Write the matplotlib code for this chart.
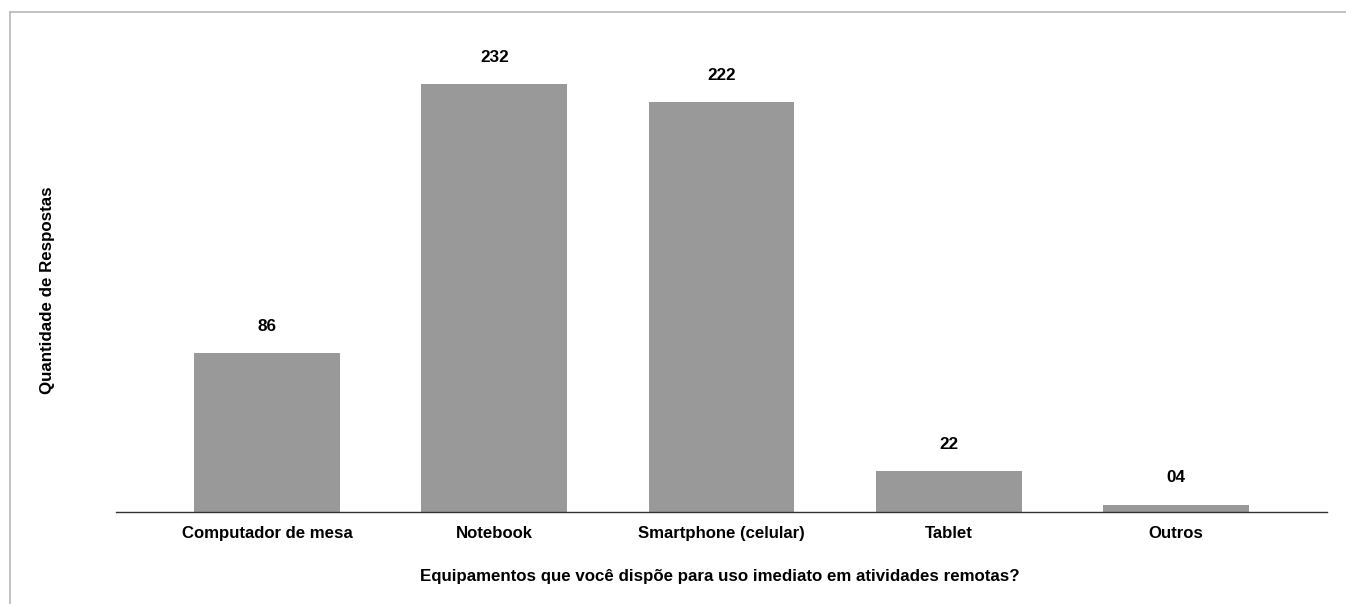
import matplotlib
matplotlib.use("Agg")
import matplotlib.pyplot as plt
from matplotlib.lines import Line2D

categories = ["Computador de mesa", "Notebook", "Smartphone (celular)", "Tablet", "Outros"]
values = [86, 232, 222, 22, 4]
value_labels = ["86", "232", "222", "22", "04"]

plt.rcParams['font.family'] = ['Liberation Sans', 'DejaVu Sans']

W, H = 1346, 604
fig = plt.figure(figsize=(W / 100, H / 100), dpi=100)

# outer border (left & top visible)
fig.add_artist(Line2D([9.5 / W, 9.5 / W], [0, 1 - 11.5 / H], color="#b8b8b8", lw=1.2, transform=fig.transFigure))
fig.add_artist(Line2D([9.5 / W, 1], [1 - 11.5 / H, 1 - 11.5 / H], color="#b8b8b8", lw=1.2, transform=fig.transFigure))

ax_left, ax_right = 116 / W, 1327 / W
ax_bottom = 1 - 512 / H
ax_top = 1 - 30 / H
ax = fig.add_axes([ax_left, ax_bottom, ax_right - ax_left, ax_top - ax_bottom])

px_per_unit = (512 - 84) / 232.0
ymax = (512 - 30) / px_per_unit

x = list(range(len(categories)))
ax.bar(x, values, width=0.643, color="#999999", edgecolor="none")
for xi, v, lab in zip(x, values, value_labels):
    ax.annotate(lab, (xi, v), xytext=(0, 27), textcoords="offset pixels",
                ha="center", va="center", fontsize=12.3, fontweight="bold", color="#000000")

ax.set_xlim(-0.667, 4.667)
ax.set_ylim(0, ymax)
for s in ["top", "right", "left"]:
    ax.spines[s].set_visible(False)
ax.spines["bottom"].set_color("#333333")
ax.spines["bottom"].set_linewidth(1.0)
ax.set_yticks([])
ax.set_xticks(x)
ax.set_xticklabels(categories, fontsize=12.1, fontweight="bold")
ax.tick_params(axis="x", length=0, pad=10)

fig.text(720 / W, 1 - 576 / H,
         "Equipamentos que você dispõe para uso imediato em atividades remotas?",
         ha="center", va="center", fontsize=12.2, fontweight="bold")
fig.text(48 / W, 1 - 290 / H, "Quantidade de Respostas", rotation=90,
         ha="center", va="center", fontsize=12.2, fontweight="bold")

fig.savefig("out.png", dpi=100)
